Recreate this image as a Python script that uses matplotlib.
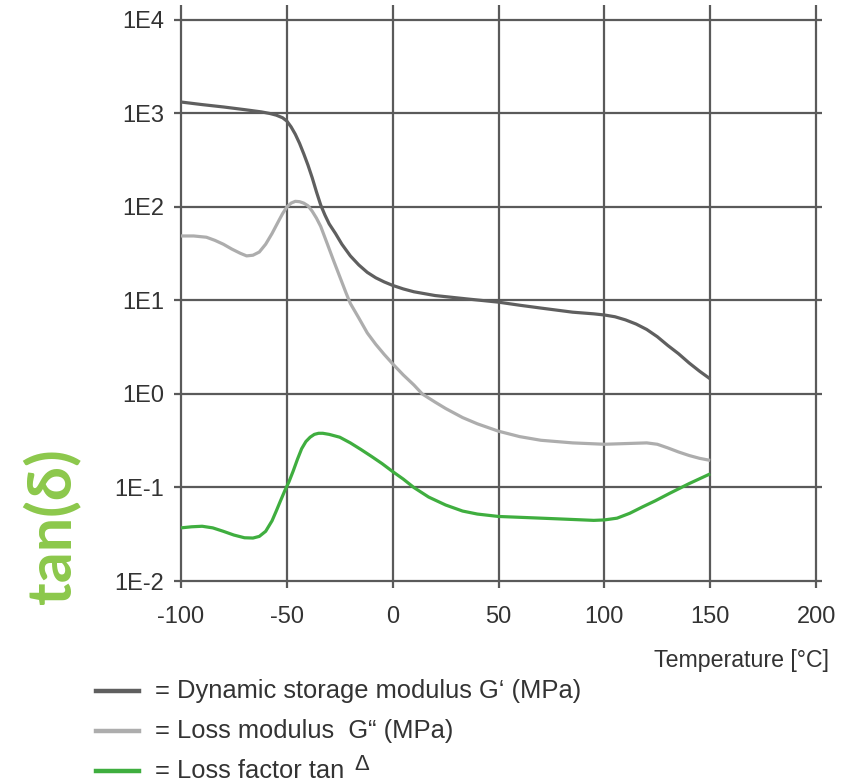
import matplotlib
matplotlib.use("Agg")
import matplotlib.pyplot as plt
from matplotlib.lines import Line2D
from matplotlib.ticker import FixedLocator, NullLocator

# Dynamic storage modulus G' (MPa)
temp_storage = [-100, -90, -80, -70, -62, -58, -55, -52, -50, -48, -46, -44, -42, -40, -38,
                -36, -34, -32, -30, -27, -24, -20, -16, -12, -8, -4, 0, 5, 10, 20, 35, 50,
                60, 70, 85, 95, 100, 105, 110, 115, 120, 125, 130, 135, 140, 145, 150]
storage_modulus = [1327, 1245, 1175, 1100, 1040, 1000, 960, 900, 830, 720, 600, 480, 370, 280,
                   205, 145, 105, 82, 66, 52, 40, 30, 24, 20, 17.5, 15.8, 14.5, 13.3, 12.4,
                   11.3, 10.4, 9.6, 8.9, 8.3, 7.5, 7.2, 7.0, 6.7, 6.2, 5.6, 4.9, 4.1, 3.3,
                   2.7, 2.15, 1.75, 1.45]

# Loss modulus G'' (MPa)
temp_loss = [-100, -94, -88, -84, -80, -76, -72, -69, -66, -63, -60, -57, -54, -52, -50, -48,
             -46, -44, -42, -40, -38, -36, -34, -31, -28, -25, -22, -20, -16, -12, -8, -4, 0,
             5, 10, 14, 20, 25, 33, 40, 50, 60, 70, 85, 100, 110, 120, 125, 130, 135, 140,
             145, 150]
loss_modulus = [49, 49, 47.5, 44, 40, 35.5, 32, 30, 30.5, 33, 40, 52, 70, 85, 100, 110,
                115, 114, 110, 103, 90, 76, 62, 41, 27, 18, 12, 9.3, 6.5, 4.5, 3.4, 2.65, 2.1,
                1.6, 1.25, 1.0, 0.82, 0.7, 0.56, 0.48, 0.40, 0.35, 0.32, 0.30, 0.29, 0.295,
                0.30, 0.29, 0.265, 0.24, 0.22, 0.205, 0.195]

# Loss factor tan delta
temp_tan = [-100, -95, -90, -85, -80, -75, -70, -66, -63, -60, -57, -55, -53, -51, -49, -47,
            -45, -43, -41, -39, -37, -35, -33, -30, -25, -20, -15, -10, -5, 0, 5, 10, 17, 25,
            33, 40, 50, 60, 70, 80, 90, 95, 100, 106, 112, 118, 124, 131, 140, 150]
loss_factor = [0.037, 0.038, 0.0385, 0.037, 0.034, 0.031, 0.029, 0.0288, 0.030, 0.034, 0.044,
               0.056, 0.072, 0.092, 0.115, 0.15, 0.20, 0.26, 0.31, 0.345, 0.37, 0.38, 0.38,
               0.37, 0.345, 0.30, 0.255, 0.215, 0.18, 0.148, 0.123, 0.10, 0.079, 0.065, 0.056,
               0.052, 0.049, 0.048, 0.047, 0.046, 0.045, 0.0445, 0.045, 0.047, 0.053, 0.062,
               0.072, 0.087, 0.11, 0.14]

x_ticks = [-100, -50, 0, 50, 100, 150, 200]
y_ticks = [1e-2, 1e-1, 1e0, 1e1, 1e2, 1e3, 1e4]
y_tick_labels = ["1E-2", "1E-1", "1E0", "1E1", "1E2", "1E3", "1E4"]

legend_labels = ["= Dynamic storage modulus G\u2018 (MPa)",
                 "= Loss modulus  G\u201c (MPa)",
                 "= Loss factor tan "]

c_storage = "#5f5f5f"
c_loss = "#adadad"
c_tan = "#3fae3f"
c_grid = "#5a5a5a"
c_text = "#333333"

plt.rcParams["font.family"] = ["Liberation Sans", "DejaVu Sans"]

W, H = 856, 782
fig = plt.figure(figsize=(W / 100, H / 100), dpi=100)
ax = fig.add_axes([174 / W, 1 - 588 / H, (822 - 174) / W, (588 - 5) / H])

ax.set_yscale("log")
ax.set_xlim(-103.3, 202.8)
ax.set_ylim(10 ** (-2 - 7 / 93.5), 10 ** (4 + 15 / 93.5))

for xs, ys, col in [(temp_storage, storage_modulus, c_storage),
                    (temp_loss, loss_modulus, c_loss),
                    (temp_tan, loss_factor, c_tan)]:
    ax.plot(xs, ys, color=col, lw=2.3, solid_joinstyle="round", solid_capstyle="butt", zorder=3)

ax.xaxis.set_major_locator(FixedLocator(x_ticks))
ax.set_xticklabels([str(v) for v in x_ticks])
ax.yaxis.set_major_locator(FixedLocator(y_ticks))
ax.yaxis.set_minor_locator(NullLocator())
ax.set_yticklabels(y_tick_labels)
ax.tick_params(axis="both", length=0, labelsize=17, labelcolor=c_text)
ax.tick_params(axis="y", pad=7)
ax.tick_params(axis="x", pad=13)
ax.grid(True, which="major", color=c_grid, lw=1.6)
for s in ax.spines.values():
    s.set_visible(False)

fig.text(829 / W, 1 - 661 / H, "Temperature [\u00b0C]", ha="right", va="center",
         fontsize=16.7, color=c_text)

fig.text(51 / W, 1 - 526 / H, "tan(\u03b4)", rotation=90, ha="center", va="center",
         fontsize=44, fontweight="bold", color="#8cc84b", family=["Lato", "DejaVu Sans"])

# Legend
colors = [c_storage, c_loss, c_tan]
rows_y = [691, 731, 771]
for lab, col, yy in zip(legend_labels, colors, rows_y):
    fig.add_artist(Line2D([96 / W, 139 / W], [1 - yy / H, 1 - yy / H], color=col, lw=3.2,
                          transform=fig.transFigure))
    fig.text(155 / W, 1 - yy / H, lab, ha="left", va="center", fontsize=18.4, color=c_text)
fig.text(354 / W, 1 - 765 / H, "\u0394", ha="left", va="center", fontsize=16, color=c_text)

fig.savefig("out.png", dpi=100)
